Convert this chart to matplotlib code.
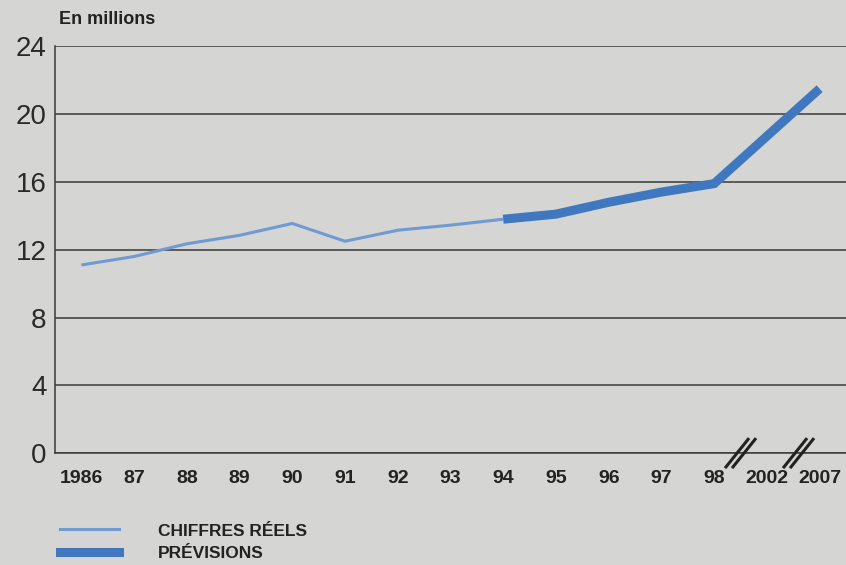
import matplotlib.pyplot as plt

# Données (en millions)
annees = ["1986", "87", "88", "89", "90", "91", "92", "93", "94",
          "95", "96", "97", "98", "2002", "2007"]
reels = [11.1, 11.6, 12.35, 12.85, 13.55, 12.5, 13.15, 13.45, 13.8]
previsions = [13.8, 14.1, 14.8, 15.4, 15.9, 18.7, 21.5]
graduations = [0, 4, 8, 12, 16, 20, 24]
coupures = [12.5, 13.6]  # position des marques "//" sur l'axe

fond = "#d5d5d3"
bleu_clair = "#6f9ad2"
bleu_fonce = "#3f78bf"
police = ["Liberation Sans", "DejaVu Sans"]

x_reels = list(range(len(reels)))
x_prev = list(range(len(reels) - 1, len(annees)))

fig = plt.figure(figsize=(8.46, 5.65), dpi=100, facecolor=fond)
ax = fig.add_axes([0.065, 0.198, 0.935, 0.72], facecolor=fond)

for g in graduations:
    ax.axhline(g, color="#3a3a3a", lw=1.1, zorder=1)

ax.plot(x_reels, reels, color=bleu_clair, lw=2.2, zorder=3, solid_capstyle="butt")
ax.plot(x_prev, previsions, color=bleu_fonce, lw=6.5, zorder=4, solid_capstyle="butt",
        solid_joinstyle="miter")

ax.set_xlim(-0.5, 14.5)
ax.set_ylim(0, 24)
ax.set_yticks(graduations)
ax.set_yticklabels([str(g) for g in graduations], fontsize=20, color="#2a2a2a",
                   family=police)
ax.set_xticks(range(len(annees)))
ax.set_xticklabels(annees, fontsize=14, fontweight="bold", color="#222222", family=police)
ax.tick_params(length=0, pad=12)
ax.tick_params(axis="y", pad=6)

for s in ["top", "right"]:
    ax.spines[s].set_visible(False)
ax.spines["left"].set_color("#3a3a3a")
ax.spines["bottom"].set_color("#3a3a3a")
ax.spines["left"].set_linewidth(1.1)
ax.spines["bottom"].set_linewidth(1.1)

# marques de coupure de l'axe (deux traits obliques, en pixels autour du point)
for pos in coupures:
    px, py = ax.transData.transform((pos, 0))
    for dx in (-3.5, 3.5):
        fig.add_artist(plt.Line2D([px + dx - 12, px + dx + 12], [py - 15, py + 15],
                                  transform=None, color="#222222", lw=2.2,
                                  solid_capstyle="butt"))

fig.text(0.07, 0.965, "En millions", fontsize=13, fontweight="bold",
         color="#222222", family=police, va="center")

# légende
fig.add_artist(plt.Line2D([0.071, 0.141], [0.064, 0.064], color=bleu_clair, lw=2.2))
fig.add_artist(plt.Line2D([0.071, 0.141], [0.023, 0.023], color=bleu_fonce, lw=6.5))
fig.text(0.187, 0.060, "CHIFFRES RÉELS", fontsize=12.5, fontweight="bold",
         color="#222222", family=police, va="center")
fig.text(0.187, 0.020, "PRÉVISIONS", fontsize=12.5, fontweight="bold",
         color="#222222", family=police, va="center")

fig.savefig("out.png", dpi=100, facecolor=fond)
